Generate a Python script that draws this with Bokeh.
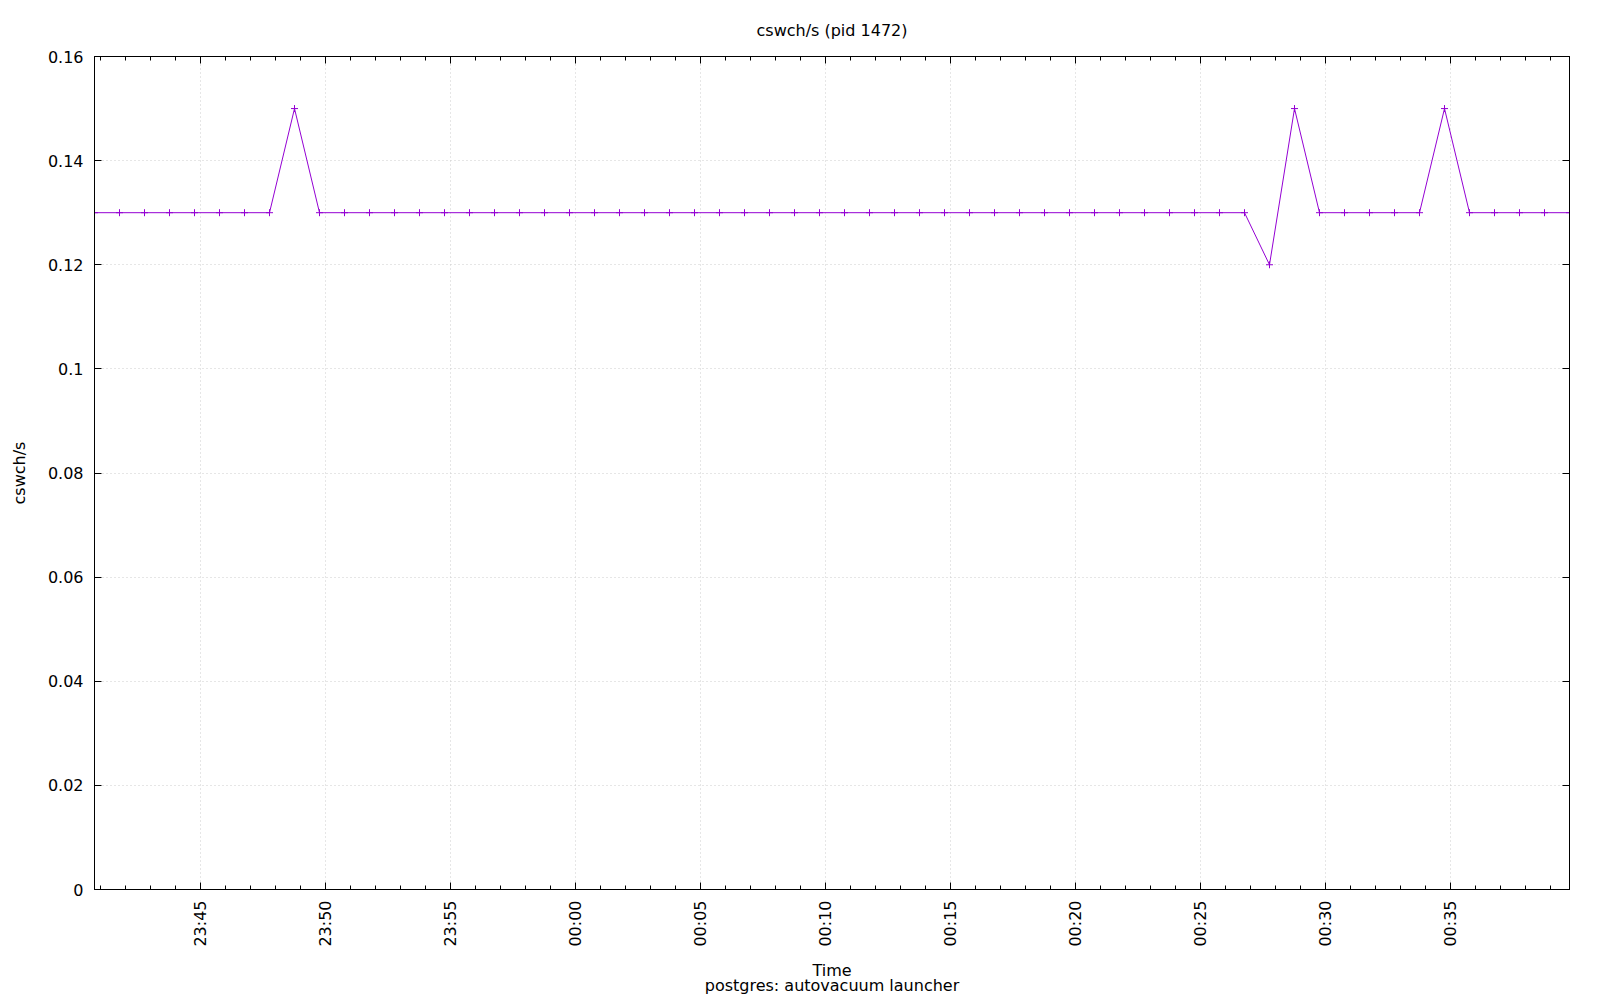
import math
import datetime as dt
from bokeh.plotting import figure
from bokeh.models import (FixedTicker, DatetimeTickFormatter, LinearAxis, DatetimeAxis,
                          Range1d, Title, ColumnDataSource)
from bokeh.embed import file_html
from bokeh.resources import INLINE

# ---- data ----
start_time = dt.datetime(2024, 1, 1, 23, 40, 45)
n_points = 60
times = [start_time + dt.timedelta(minutes=i) for i in range(n_points)]
cswch = [0.13, 0.13, 0.13, 0.13, 0.13, 0.13, 0.13, 0.13, 0.15, 0.13,
         0.13, 0.13, 0.13, 0.13, 0.13, 0.13, 0.13, 0.13, 0.13, 0.13,
         0.13, 0.13, 0.13, 0.13, 0.13, 0.13, 0.13, 0.13, 0.13, 0.13,
         0.13, 0.13, 0.13, 0.13, 0.13, 0.13, 0.13, 0.13, 0.13, 0.13,
         0.13, 0.13, 0.13, 0.13, 0.13, 0.13, 0.13, 0.12, 0.15, 0.13,
         0.13, 0.13, 0.13, 0.13, 0.15, 0.13, 0.13, 0.13, 0.13, 0.13]
y_ticks = [0, 0.02, 0.04, 0.06, 0.08, 0.1, 0.12, 0.14, 0.16]
y_tick_labels = ["0", "0.02", "0.04", "0.06", "0.08", "0.1", "0.12", "0.14", "0.16"]
x_major_times = ["23:45", "23:50", "23:55", "00:00", "00:05", "00:10", "00:15",
                 "00:20", "00:25", "00:30", "00:35"]

title_text = "cswch/s (pid 1472)"
x_label = "Time"
y_label = "cswch/s"
sub_label = "postgres: autovacuum launcher"

# ---- helpers ----
EPOCH = dt.datetime(1970, 1, 1)
def ms(t):
    return (t - EPOCH).total_seconds() * 1000.0

def hhmm_to_dt(s):
    h, m = map(int, s.split(":"))
    d = start_time.date() if h >= 12 else start_time.date() + dt.timedelta(days=1)
    return dt.datetime(d.year, d.month, d.day, h, m)

major_ms = [ms(hhmm_to_dt(s)) for s in x_major_times]
minor_ms = []
t = dt.datetime(start_time.year, start_time.month, start_time.day,
                start_time.hour, start_time.minute) + dt.timedelta(minutes=1)
while t <= times[-1]:
    minor_ms.append(ms(t))
    t += dt.timedelta(minutes=1)

FONT = "DejaVu Sans"
FS = "16px"
COLOR = "#9400D3"

src = ColumnDataSource(dict(t=times, v=cswch))

p = figure(width=1600, height=1000, x_axis_type="datetime",
           output_backend="svg", toolbar_location=None,
           x_range=Range1d(times[0], times[-1]), y_range=Range1d(0, 0.16),
           min_border_left=94, min_border_right=31, min_border_top=56,
           min_border_bottom=111)

p.title.text = title_text
p.title.align = "center"
p.title.text_font = FONT
p.title.text_font_size = FS
p.title.text_font_style = "normal"
p.title.text_color = "black"
p.title.standoff = 34

xticker = FixedTicker(ticks=major_ms, minor_ticks=minor_ms)
yticker = FixedTicker(ticks=y_ticks, minor_ticks=[])
fmt = DatetimeTickFormatter(seconds="%H:%M", minsec="%H:%M", minutes="%H:%M",
                            hourmin="%H:%M", hours="%H:%M", days="%H:%M")

xa = p.xaxis[0]
xa.ticker = xticker
xa.formatter = fmt
xa.major_label_orientation = math.pi / 2
xa.axis_label = x_label
ya = p.yaxis[0]
ya.ticker = yticker
ya.major_label_overrides = {v: s for v, s in zip(y_ticks, y_tick_labels)}
ya.axis_label = y_label

for ax in (xa, ya):
    ax.major_tick_in = 7
    ax.major_tick_out = 0
    ax.minor_tick_in = 4
    ax.minor_tick_out = 0
    ax.major_label_text_font = FONT
    ax.major_label_text_font_size = FS
    ax.major_label_text_color = "black"
    ax.axis_label_text_font = FONT
    ax.axis_label_text_font_size = FS
    ax.axis_label_text_font_style = "normal"
    ax.axis_label_text_color = "black"
    ax.axis_line_color = "black"
    ax.major_tick_line_color = "black"
    ax.minor_tick_line_color = "black"
xa.major_label_standoff = 11
xa.axis_label_standoff = 11
ya.major_label_standoff = 11
ya.axis_label_standoff = 16

top = DatetimeAxis(ticker=xticker, formatter=fmt, major_label_text_font_size="0px",
                   major_label_standoff=0, major_tick_in=7, major_tick_out=0,
                   minor_tick_in=4, minor_tick_out=0, axis_line_color="black")
right = LinearAxis(ticker=yticker, major_label_text_font_size="0px",
                   major_label_standoff=0, major_tick_in=7, major_tick_out=0,
                   minor_tick_in=0, minor_tick_out=0, axis_line_color="black")
p.add_layout(top, "above")
p.add_layout(right, "right")

p.add_layout(Title(text=sub_label, align="center", text_font=FONT, text_font_size=FS,
                   text_font_style="normal", text_color="black", standoff=-17), "below")

p.xgrid.ticker = xticker
p.ygrid.ticker = yticker
for g in (p.xgrid, p.ygrid):
    g.grid_line_color = "#cccccc"
    g.grid_line_dash = "1 3"
    g.grid_line_width = 1

p.outline_line_color = "black"
p.outline_line_alpha = 1

p.line("t", "v", source=src, line_color=COLOR, line_width=1)
p.scatter("t", "v", source=src, marker="cross", size=7, line_color=COLOR, line_width=1)

open("out.html", "w").write(file_html(p, INLINE))
